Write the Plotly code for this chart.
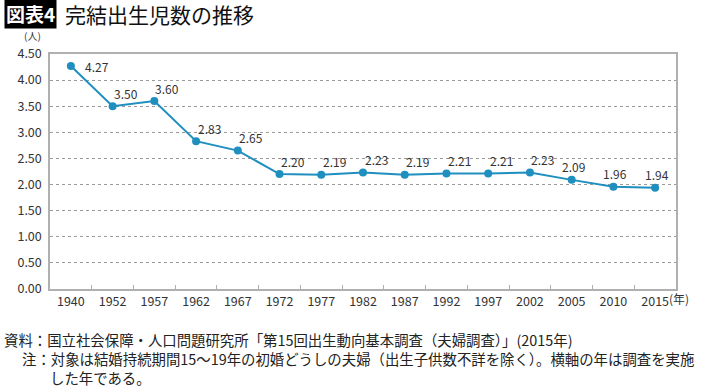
import plotly.graph_objects as go

years = ["1940", "1952", "1957", "1962", "1967", "1972", "1977", "1982", "1987",
         "1992", "1997", "2002", "2005", "2010", "2015"]
values = [4.27, 3.50, 3.60, 2.83, 2.65, 2.20, 2.19, 2.23, 2.19, 2.21, 2.21, 2.23, 2.09, 1.96, 1.94]
y_ticks = [0, 0.5, 1, 1.5, 2, 2.5, 3, 3.5, 4, 4.5]

FONT = "Noto Sans CJK JP"
LINE = "#1f8fc0"
GRID = "#9a9a9a"
AXIS = "#b0b0b0"

fig = go.Figure()
fig.add_trace(go.Scatter(
    x=years, y=values, mode="lines+markers",
    line=dict(color=LINE, width=2),
    marker=dict(color=LINE, size=8),
    showlegend=False,
))

# value labels (category index positions on the category axis)
for i, v in enumerate(values):
    if i == 0:
        xs, ys, xa = 12, 0, "left"
    elif i <= 11:
        xs, ys, xa = 13, 13, "center"
    else:
        xs, ys, xa = 2, 13, "center"
    fig.add_annotation(x=i, y=v, xref="x", yref="y", text=f"{v:.2f}", showarrow=False,
                       xshift=xs, yshift=ys, xanchor=xa, yanchor="middle",
                       font=dict(family=FONT, size=12, color="#333333"))

fig.update_layout(
    width=710, height=388,
    margin=dict(l=50, r=34, t=54, b=99),
    paper_bgcolor="white", plot_bgcolor="white",
    font=dict(family=FONT, color="#333333"),
)
fig.update_xaxes(
    type="category", range=[-0.5, len(years) - 0.5],
    showline=True, linecolor=AXIS, linewidth=1.5, mirror=True,
    showgrid=False, ticks="inside", tickson="boundaries", ticklen=4, tickcolor=AXIS,
    tickfont=dict(family=FONT, size=12.5, color="#333333"),
)
fig.update_yaxes(
    range=[0, 4.5], tickvals=y_ticks, ticktext=[f"{v:.2f}" for v in y_ticks],
    showline=True, linecolor=AXIS, linewidth=1.5, mirror=True,
    showgrid=True, gridcolor=GRID, griddash="dot", gridwidth=1,
    zeroline=False, ticks="", ticklabelstandoff=4,
    tickfont=dict(family=FONT, size=12.5, color="#333333"),
)

def paper_text(text, x, y, size, color="#222222", bg=None, xanchor="left", pad=1):
    fig.add_annotation(text=text, x=(x - 50) / 626, y=(388 - 99 - y) / (388 - 54 - 99),
                       xref="paper", yref="paper", showarrow=False,
                       xanchor=xanchor, yanchor="middle", bgcolor=bg,
                       borderpad=pad,
                       font=dict(family=FONT, color=color, size=size))

paper_text("(人)", 32, 36, 10, color="#333333", xanchor="center", pad=0)
paper_text("(年)", 679, 298, 12, color="#333333", xanchor="center")
paper_text("<b>図表4</b>", 4, 14, 19, color="white", bg="black")
paper_text("完結出生児数の推移", 63, 14, 21, color="#111111")
paper_text("資料：国立社会保障・人口問題研究所「第15回出生動向基本調査（夫婦調査）」(2015年)", 2, 339, 14.4)
paper_text("注：対象は結婚持続期間15～19年の初婚どうしの夫婦（出生子供数不詳を除く）。横軸の年は調査を実施", 20, 358, 14.4)
paper_text("した年である。", 48, 377, 14.4)

fig.write_html("out.html", config={"displayModeBar": False},
               post_script="document.body.style.margin='0';")
